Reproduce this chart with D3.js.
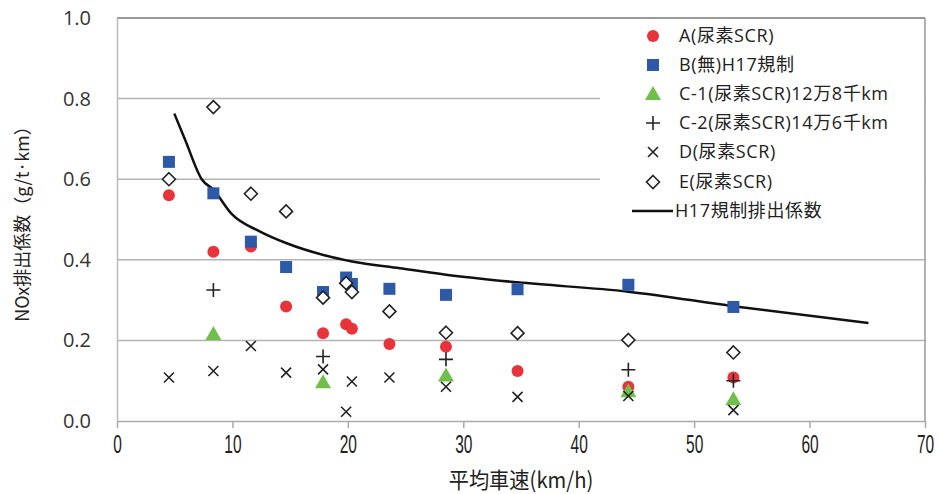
<!DOCTYPE html>
<html><head><meta charset="utf-8">
<script src="https://cdn.jsdelivr.net/npm/d3@7"></script>
<style>body{margin:0;background:#fff}svg{display:block}</style>
</head><body><svg id="c" width="939" height="494"></svg>
<script>
const speeds = [4.5, 8.35, 11.6, 14.65, 17.85, 19.85, 20.35, 23.6, 28.5, 34.7, 44.3, 53.4];
const seriesA = [0.56, 0.42, 0.433, 0.284, 0.218, 0.24, 0.229, 0.191, 0.184, 0.124, 0.085, 0.108];
const seriesB = [0.643, 0.565, 0.445, 0.382, 0.32, 0.356, 0.34, 0.328, 0.313, 0.327, 0.338, 0.283];
const speedsC = [8.35, 17.85, 28.5, 44.3, 53.4];
const seriesC1 = [0.216, 0.096, 0.113, 0.074, 0.054];
const seriesC2 = [0.325, 0.16, 0.153, 0.127, 0.1];
const seriesD = [0.108, 0.124, 0.186, 0.12, 0.128, 0.023, 0.098, 0.108, 0.085, 0.06, 0.062, 0.027];
const seriesE = [0.6, 0.779, 0.564, 0.52, 0.306, 0.342, 0.32, 0.272, 0.219, 0.218, 0.201, 0.17];
const h17X = [4.96, 5.9, 7.34, 8.35, 9.93, 12.4, 14.7, 17.87, 20.36, 24.5, 28.5, 34.7, 44.3, 53.4, 65.1];
const h17Y = [0.763, 0.698, 0.6, 0.574, 0.514, 0.47, 0.441, 0.412, 0.396, 0.379, 0.363, 0.344, 0.321, 0.285, 0.243];
const xTicks = [0, 10, 20, 30, 40, 50, 60, 70];
const yTicks = [0, 0.2, 0.4, 0.6, 0.8, 1.0];
const legendLabels = ["A(尿素SCR)", "B(無)H17規制", "C-1(尿素SCR)12万8千km", "C-2(尿素SCR)14万6千km", "D(尿素SCR)", "E(尿素SCR)", "H17規制排出係数"];

const svg = d3.select("#c");
const L = 117, R = 925, T = 18, B = 421;
const x = d3.scaleLinear().domain([0, 70]).range([L, R]);
const y = d3.scaleLinear().domain([0, 1]).range([B, T]);
const font = "'Open Sans','Noto Sans CJK JP',sans-serif";

// gridlines
svg.append("g").selectAll("line").data(yTicks.filter(d => d > 0)).join("line")
  .attr("x1", L).attr("x2", R).attr("y1", d => y(d)).attr("y2", d => y(d))
  .attr("stroke", d => d === 1 ? "#777" : "#b4b4b4").attr("stroke-width", 1.5);
svg.append("line").attr("x1", R).attr("x2", R).attr("y1", T).attr("y2", B).attr("stroke", "#999").attr("stroke-width", 1.5);

// x axis
const xAxis = svg.append("g").attr("transform", `translate(0,${B})`)
  .call(d3.axisBottom(x).tickValues(xTicks).tickSize(7).tickSizeOuter(0).tickPadding(7));
xAxis.select(".domain").attr("stroke", "#aaa").attr("stroke-width", 1.5);
xAxis.selectAll(".tick line").attr("stroke", "#aaa").attr("stroke-width", 1.5);
xAxis.selectAll("text").attr("font-family", "'Liberation Sans',sans-serif")
  .attr("font-size", 25).attr("fill", "#222").attr("transform", "scale(0.62,1)");

// y axis
const yAxis = svg.append("g").attr("transform", `translate(${L},0)`)
  .call(d3.axisLeft(y).tickValues(yTicks).tickFormat(d3.format(".1f")).tickSize(0).tickPadding(26));
yAxis.select(".domain").attr("stroke", "#bbb").attr("stroke-width", 1.5);
yAxis.selectAll("text").attr("font-family", font).attr("font-size", 20).attr("fill", "#333");

// titles
svg.append("text").attr("transform", `translate(${x(35)},488) scale(0.92,1)`).attr("text-anchor", "middle")
  .attr("font-family", "'Noto Sans CJK JP',sans-serif").attr("font-size", 22).attr("fill", "#222")
  .text("平均車速(km/h)");
svg.append("text").attr("transform", `translate(29,${(T + B) / 2}) rotate(-90)`).attr("text-anchor", "middle")
  .attr("font-family", "'Noto Sans CJK JP',sans-serif").attr("font-size", 18).attr("fill", "#222")
  .text("NOx排出係数（g/t·km）");

// legend background
svg.append("rect").attr("x", 600).attr("y", T + 1).attr("width", R - 600 - 1).attr("height", 226).attr("fill", "#fff");

// H17 line
const line = d3.line().x((d, i) => x(h17X[i])).y(d => y(d)).curve(d3.curveMonotoneX);
svg.append("path").attr("d", line(h17Y)).attr("fill", "none").attr("stroke", "#111").attr("stroke-width", 2.5);

const g = svg.append("g");
const red = "#e8333a", blue = "#2d5aa8", green = "#6fbf4a";
function circle(sel, cx, cy) { sel.append("circle").attr("cx", cx).attr("cy", cy).attr("r", 6).attr("fill", red); }
function square(sel, cx, cy) { sel.append("rect").attr("x", cx - 6).attr("y", cy - 6).attr("width", 12).attr("height", 12).attr("fill", blue); }
function tri(sel, cx, cy) { sel.append("path").attr("d", `M${cx},${cy - 8}L${cx + 8},${cy + 6}L${cx - 8},${cy + 6}Z`).attr("fill", green); }
function plus(sel, cx, cy) { sel.append("path").attr("d", `M${cx - 7},${cy}H${cx + 7}M${cx},${cy - 7}V${cy + 7}`).attr("stroke", "#222").attr("stroke-width", 1.6); }
function cross(sel, cx, cy) { sel.append("path").attr("d", `M${cx - 5},${cy - 5}L${cx + 5},${cy + 5}M${cx + 5},${cy - 5}L${cx - 5},${cy + 5}`).attr("stroke", "#222").attr("stroke-width", 1.6); }
function diamond(sel, cx, cy) { sel.append("path").attr("d", `M${cx},${cy - 6.5}L${cx + 6.5},${cy}L${cx},${cy + 6.5}L${cx - 6.5},${cy}Z`).attr("fill", "#fff").attr("stroke", "#222").attr("stroke-width", 1.6); }

seriesA.forEach((v, i) => circle(g, x(speeds[i]), y(v)));
seriesB.forEach((v, i) => square(g, x(speeds[i]), y(v)));
seriesC1.forEach((v, i) => tri(g, x(speedsC[i]), y(v)));
seriesC2.forEach((v, i) => plus(g, x(speedsC[i]), y(v)));
seriesD.forEach((v, i) => cross(g, x(speeds[i]), y(v)));
seriesE.forEach((v, i) => diamond(g, x(speeds[i]), y(v)));

// legend
const lg = svg.append("g");
const drawers = [circle, square, tri, plus, cross, diamond];
const rowY = [36, 65, 94, 123, 152, 182, 211];
drawers.forEach((f, i) => f(lg, 653, rowY[i]));
lg.append("line").attr("x1", 632).attr("x2", 673).attr("y1", rowY[6]).attr("y2", rowY[6]).attr("stroke", "#111").attr("stroke-width", 2.5);
legendLabels.forEach((t, i) => {
  lg.append("text").attr("x", i === 6 ? 675 : 679).attr("y", rowY[i]).attr("dy", "0.36em")
    .attr("font-family", font).attr("font-size", 18).attr("letter-spacing", 0.6).attr("fill", "#222").text(t);
});
</script></body></html>
